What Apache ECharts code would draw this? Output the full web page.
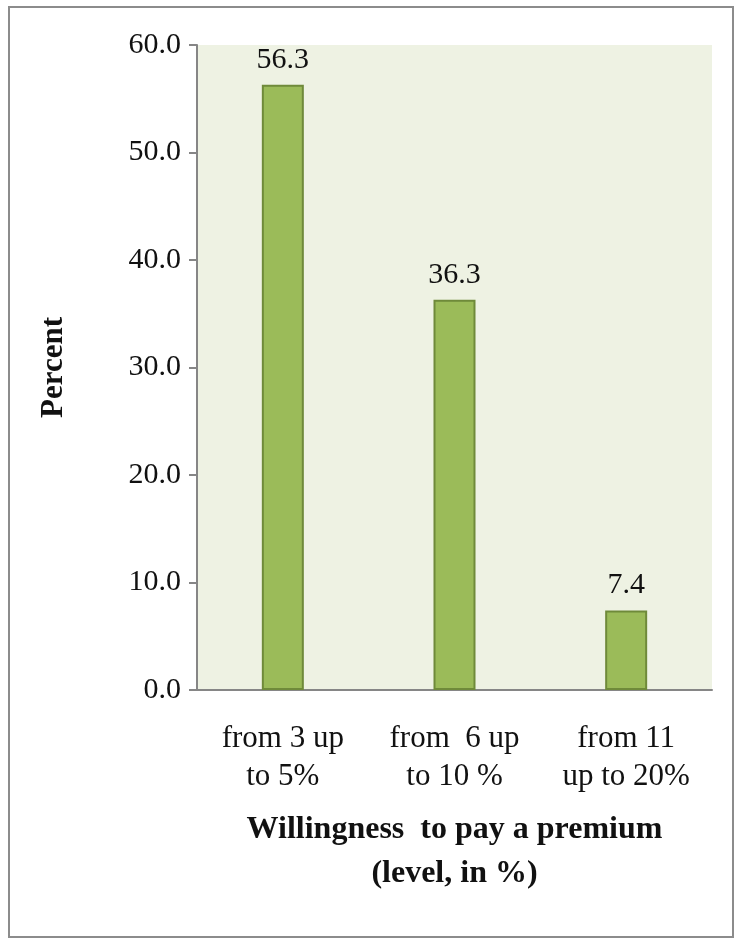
<!DOCTYPE html>
<html><head><meta charset="utf-8">
<script src="https://cdn.jsdelivr.net/npm/echarts@6/dist/echarts.min.js"></script>
<style>html,body{margin:0;padding:0;background:#fff}
#wrap{position:absolute;left:8px;top:6px;width:726px;height:932px;border:2px solid #8c8c8c;box-sizing:border-box}
#c{position:absolute;left:0;top:0;width:742px;height:944px}</style>
</head><body><div id="wrap"></div><div id="c"></div>
<script>
const categories = ["from 3 up\nto 5%", "from  6 up\nto 10 %", "from 11\nup to 20%"];
const values = [56.3, 36.3, 7.4];
const yTicks = [0, 10, 20, 30, 40, 50, 60];
const chart = echarts.init(document.getElementById('c'));
const font = 'Liberation Serif';
chart.setOption({
  animation:false,
  grid:{left:197,right:30,top:45,bottom:254,show:true,backgroundColor:'#eef2e3',borderWidth:0},
  xAxis:{type:'category',data:categories,
    axisLine:{lineStyle:{color:'#868686',width:2}},axisTick:{show:false},
    axisLabel:{color:'#111',fontFamily:font,fontSize:31,lineHeight:38,margin:30},
    name:'Willingness  to pay a premium\n(level, in %)',nameLocation:'middle',nameGap:118,
    nameTextStyle:{color:'#111',fontFamily:font,fontSize:32,fontWeight:'bold',lineHeight:44}},
  yAxis:{type:'value',min:yTicks[0],max:yTicks[yTicks.length-1],interval:10,
    splitLine:{show:false},
    axisLine:{show:true,lineStyle:{color:'#868686',width:2}},
    axisTick:{show:true,length:8,lineStyle:{color:'#868686',width:2}},
    axisLabel:{color:'#111',fontFamily:font,fontSize:30,margin:16,formatter:v=>v.toFixed(1)},
    name:'Percent',nameLocation:'middle',nameGap:128,
    nameTextStyle:{color:'#111',fontFamily:font,fontSize:31,fontWeight:'bold'}},
  series:[{type:'bar',data:values,barWidth:42,
    itemStyle:{color:'#9bbb59',borderColor:'#6f8a3a',borderWidth:2},
    label:{show:true,position:'top',distance:10,color:'#111',fontFamily:font,fontSize:30,formatter:p=>p.value.toFixed(1)}}]
});
</script></body></html>
